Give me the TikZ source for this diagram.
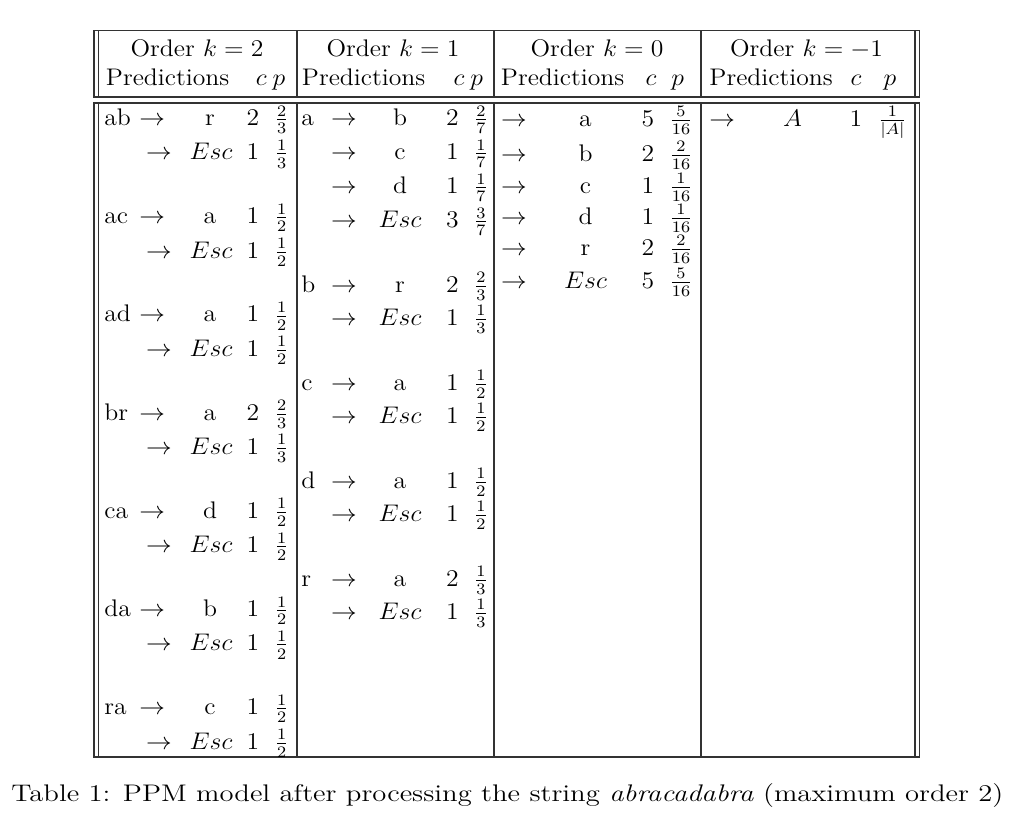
\documentclass[tikz,border=0pt]{standalone}
\usepackage{graphicx}
\newcommand{\stx}[1]{\scalebox{1.07}[1]{\fontsize{12}{14}\selectfont #1}}
\begin{document}
\begin{tikzpicture}[x=0.5pt,y=-0.5pt,
  rule/.style={line width=0.8pt, draw=black!80, line cap=rect},
  tb/.style={inner sep=0pt, anchor=base},
  tw/.style={inner sep=0pt, anchor=base west}]
\useasboundingbox (0,0) rectangle (1020,820);
% ---- frame: header block ----
\foreach \yy in {30.5,96.7} \draw[rule] (94,\yy) -- (919.5,\yy);
\foreach \xx in {94,98.5,297,494,701,915,919.5} \draw[rule] (\xx,30.5) -- (\xx,96.7);
% ---- frame: body block ----
\foreach \yy in {102.7,757} \draw[rule] (94,\yy) -- (919.5,\yy);
\foreach \xx in {94,98.5,297,494,701,915,919.5} \draw[rule] (\xx,102.7) -- (\xx,757);
% ---- header ----
\node[tb] (h1) at (197,56) {\stx{Order $k=2$}};
\node[tb] (h2) at (393,56) {\stx{Order $k=1$}};
\node[tb] (h3) at (597,56) {\stx{Order $k=0$}};
\node[tb] (h4) at (806.5,56) {\stx{Order $k=-1$}};
\foreach \i/\xp/\xc/\xq in {1/105.5/261.3/279, 2/301.5/459/476.7, 3/500.5/651/677.7, 4/709/856/890}{
  \node[tw] (pr\i) at (\xp,85) {\stx{Predictions}};
  \node[tb] (pc\i) at (\xc,85) {\stx{$c$}};
  \node[tb] (pp\i) at (\xq,85) {\stx{$p$}};
}
% ---- column k=2 ----
\foreach \g/\ctx/\sym/\cnt/\fr/\ecnt/\efr in {
  0/ab/r/2/\frac{2}{3}/1/\frac{1}{3},
  1/ac/a/1/\frac{1}{2}/1/\frac{1}{2},
  2/ad/a/1/\frac{1}{2}/1/\frac{1}{2},
  3/br/a/2/\frac{2}{3}/1/\frac{1}{3},
  4/ca/d/1/\frac{1}{2}/1/\frac{1}{2},
  5/da/b/1/\frac{1}{2}/1/\frac{1}{2},
  6/ra/c/1/\frac{1}{2}/1/\frac{1}{2}}{
  \pgfmathsetmacro\ya{125.5+98.2*\g}
  \pgfmathsetmacro\yb{\ya+34.3}
  \node[tw] (a\g ctx) at (104,\ya) {\stx{\ctx}};
  \node[tw] (a\g ar) at (139,\ya) {\stx{$\rightarrow$}};
  \node[tb] (a\g sym) at (210,\ya) {\stx{\sym}};
  \node[tb] (a\g cnt) at (253,\ya) {\stx{\cnt}};
  \node[tb] (a\g fr) at (281.7,\ya) {\stx{$\fr$}};
  \node[tw] (a\g ear) at (145.7,\yb) {\stx{$\rightarrow$}};
  \node[tb] (a\g esc) at (211,\yb) {\stx{$Esc$}};
  \node[tb] (a\g ecnt) at (253,\yb) {\stx{\ecnt}};
  \node[tb] (a\g efr) at (281.7,\yb) {\stx{$\efr$}};
}
% ---- column k=1 ----
\foreach \r/\yy/\sym/\cnt/\fr in {
  1/125.5/b/2/\frac{2}{7},
  2/159.5/c/1/\frac{1}{7},
  3/193.5/d/1/\frac{1}{7},
  4/227.5/$Esc$/3/\frac{3}{7},
  5/292/r/2/\frac{2}{3},
  6/325/$Esc$/1/\frac{1}{3},
  7/390/a/1/\frac{1}{2},
  8/423/$Esc$/1/\frac{1}{2},
  9/488/a/1/\frac{1}{2},
  10/521/$Esc$/1/\frac{1}{2},
  11/586/a/2/\frac{1}{3},
  12/619/$Esc$/1/\frac{1}{3}}{
  \node[tw] (b\r ar) at (330.7,\yy) {\stx{$\rightarrow$}};
  \node[tb] (b\r sym) at (400,\yy) {\stx{\sym}};
  \node[tb] (b\r cnt) at (452.5,\yy) {\stx{\cnt}};
  \node[tb] (b\r fr) at (481,\yy) {\stx{$\fr$}};
}
\node[tw] (bctxa) at (301,125.5) {\stx{a}};
\node[tw] (bctxb) at (301,292) {\stx{b}};
\node[tw] (bctxc) at (301,390) {\stx{c}};
\node[tw] (bctxd) at (301,488) {\stx{d}};
\node[tw] (bctxr) at (301,586) {\stx{r}};
% ---- column k=0 ----
\foreach \r/\yy/\sym/\cnt/\fr in {
  1/126/a/5/\frac{5}{16},
  2/161/b/2/\frac{2}{16},
  3/193/c/1/\frac{1}{16},
  4/224/d/1/\frac{1}{16},
  5/255/r/2/\frac{2}{16},
  6/288/$Esc$/5/\frac{5}{16}}{
  \node[tw] (c\r ar) at (500.7,\yy) {\stx{$\rightarrow$}};
  \node[tb] (c\r sym) at (585.5,\yy) {\stx{\sym}};
  \node[tb] (c\r cnt) at (648,\yy) {\stx{\cnt}};
  \node[tb] (c\r fr) at (681,\yy) {\stx{$\fr$}};
}
% ---- column k=-1 ----
\node[tw] (d1ar) at (709,126) {\stx{$\rightarrow$}};
\node[tb] (d1sym) at (792.5,126) {\stx{$A$}};
\node[tb] (d1cnt) at (856,126) {\stx{1}};
\node[tb] (d1fr) at (892.5,126) {\stx{$\frac{1}{|A|}$}};
% ---- caption ----
\node[tw] (cap) at (11,801) {\resizebox{496pt}{\height}{\fontsize{12}{14}\selectfont Table 1: PPM model after processing the string \textit{abracadabra} (maximum order 2)}};
\end{tikzpicture}
\end{document}
